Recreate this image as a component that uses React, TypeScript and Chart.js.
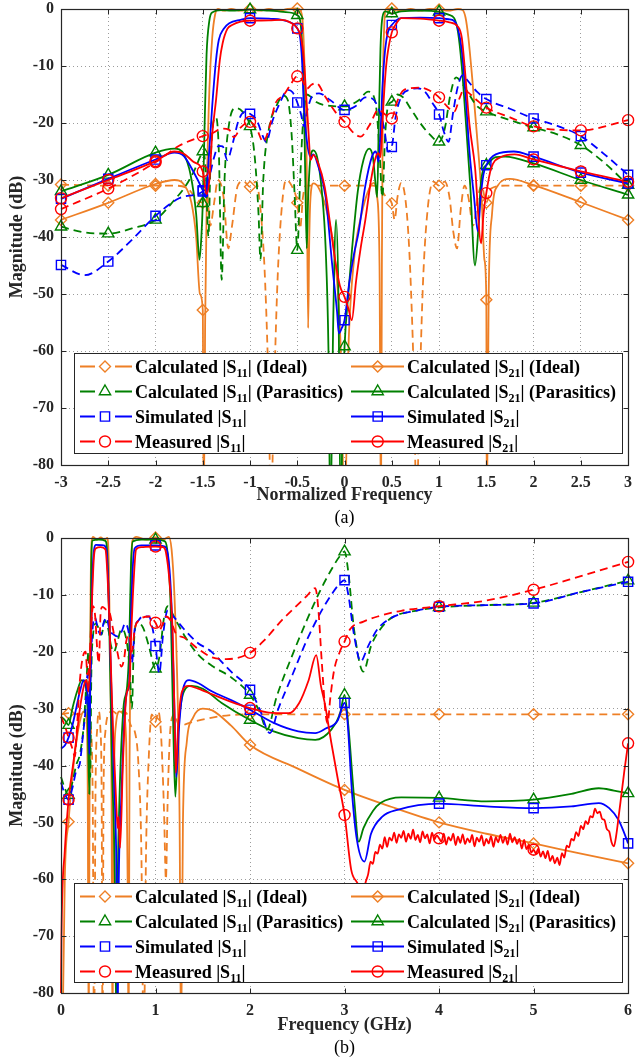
import React, { useEffect, useRef } from "react";
import { Chart, registerables } from "chart.js";

Chart.register(...registerables);

type Pt = [number, number];

const FONT = "'Liberation Serif', 'Times New Roman', Times, serif";
const ORANGE = "#EE7F25";
const GREEN = "#008000";
const BLUE = "#0000FF";
const RED = "#FF0000";
const INK = "#262626";

// ================= (a) Normalized frequency =================
const topMarkerX = [-3, -2.5, -2, -1.5, -1, -0.5, 0, 0.5, 1, 1.5, 2, 2.5, 3];

const topIdealS11: Pt[] = [
  [-3, -30.8], [-2.5, -31], [-2, -31], [-1.8, -31], [-1.66, -31.5], [-1.58, -33], [-1.5, -34], [-1.46, -31.5],
  [-1.42, -38], [-1.38, -34], [-1.34, -30], [-1.28, -33], [-1.23, -42], [-1.19, -38], [-1.13, -31], [-1.07, -30.2],
  [-1, -31.2], [-0.94, -30.3], [-0.89, -35], [-0.84, -48], [-0.8, -70], [-0.78, -90], [-0.75, -70], [-0.71, -48],
  [-0.67, -36], [-0.62, -30], [-0.56, -31], [-0.5, -34], [-0.47, -38.5], [-0.44, -33], [-0.41, -31], [-0.3, -31],
  [0, -31], [0.3, -31], [0.38, -31.5], [0.44, -33], [0.5, -34.1], [0.53, -37], [0.56, -33], [0.6, -30.5],
  [0.66, -36], [0.7, -48], [0.74, -70], [0.76, -90], [0.79, -70], [0.83, -48], [0.88, -35], [0.94, -30.3],
  [1, -31], [1.06, -30.3], [1.11, -33], [1.15, -39], [1.19, -42], [1.23, -35], [1.27, -31], [1.31, -33],
  [1.36, -38], [1.41, -33], [1.45, -31], [1.5, -34], [1.55, -31.5], [1.7, -31], [2, -31], [2.5, -31], [3, -31],
];

const topIdealS21: Pt[] = [
  [-3, -37], [-2.5, -34], [-2, -30.7], [-1.8, -30], [-1.7, -30.8], [-1.62, -34], [-1.57, -40], [-1.53, -50],
  [-1.5, -52.8], [-1.49, -90], [-1.475, -55], [-1.455, -30], [-1.43, -14], [-1.4, -5], [-1.37, -1], [-1.34, 0],
  [-1.28, -0.3], [-1.2, 0], [-1.1, -0.3], [-1, 0], [-0.9, -0.3], [-0.8, 0], [-0.7, -0.3], [-0.6, 0],
  [-0.5, 0.1], [-0.46, -0.5], [-0.44, -3], [-0.42, -12], [-0.4, -28], [-0.385, -56], [-0.375, -42], [-0.36, -33],
  [-0.33, -30.6], [-0.27, -31.5], [-0.18, -36], [-0.1, -44], [-0.04, -60], [0, -90], [0.04, -60], [0.1, -44],
  [0.18, -36], [0.26, -31.5], [0.31, -30.5], [0.345, -33], [0.37, -45], [0.385, -90], [0.395, -45], [0.405, -15],
  [0.42, -3], [0.44, 0], [0.5, 0.1], [0.6, -0.3], [0.7, 0], [0.8, -0.3], [0.9, 0], [1, -0.1],
  [1.1, -0.3], [1.2, 0], [1.25, -0.2], [1.28, -1.5], [1.31, -5], [1.35, -12], [1.4, -22], [1.45, -33],
  [1.48, -44], [1.5, -51], [1.505, -90], [1.525, -50], [1.56, -36], [1.62, -31], [1.75, -29.8], [2, -30.9],
  [2.5, -33.9], [3, -37],
];

const topParaS11: Pt[] = [
  [-3, -38.2], [-2.75, -39.2], [-2.5, -39.4], [-2.25, -38.5], [-2, -37], [-1.8, -33.5], [-1.68, -31], [-1.58, -28],
  [-1.53, -26], [-1.5, -25], [-1.47, -28], [-1.44, -40], [-1.42, -28], [-1.39, -20], [-1.36, -19], [-1.33, -25],
  [-1.3, -47.5], [-1.27, -30], [-1.22, -20], [-1.15, -17.4], [-1.08, -18], [-1, -20.6], [-0.95, -26], [-0.91, -36],
  [-0.89, -44], [-0.86, -30], [-0.8, -21], [-0.72, -17], [-0.65, -15.2], [-0.6, -16], [-0.56, -22], [-0.53, -32],
  [-0.5, -42.3], [-0.47, -30], [-0.44, -20], [-0.4, -15], [-0.35, -15.5], [-0.3, -16.3], [-0.15, -17], [0, -17.1],
  [0.15, -16], [0.25, -14.5], [0.3, -15], [0.34, -18], [0.37, -25], [0.4, -33], [0.43, -22], [0.46, -17],
  [0.5, -16.3], [0.56, -15], [0.62, -15.5], [0.7, -17.5], [0.8, -20], [0.9, -22], [1, -23.3], [1.06, -21],
  [1.12, -15], [1.18, -12], [1.22, -12.5], [1.3, -14.5], [1.4, -17], [1.5, -18], [1.75, -19.5], [2, -20.8],
  [2.25, -22], [2.5, -23.9], [2.75, -27], [3, -30.9],
];

const topParaS21: Pt[] = [
  [-3, -32], [-2.5, -29.1], [-2, -25.2], [-1.8, -24.5], [-1.7, -25.5], [-1.63, -29], [-1.57, -36], [-1.535, -44],
  [-1.515, -40], [-1.5, -34.1], [-1.48, -20], [-1.46, -8], [-1.43, -2], [-1.4, -0.6], [-1.3, -0.2], [-1.2, -0.3],
  [-1, -0.1], [-0.8, -0.3], [-0.65, -0.5], [-0.55, -0.7], [-0.5, -1.1], [-0.47, -2], [-0.45, -6], [-0.43, -16],
  [-0.415, -30], [-0.4, -42], [-0.385, -33], [-0.36, -26], [-0.33, -24.8], [-0.29, -26], [-0.24, -32], [-0.2, -42],
  [-0.17, -60], [-0.15, -90], [-0.12, -55], [-0.09, -37], [-0.065, -50], [-0.04, -90], [-0.02, -70], [0, -59.2],
  [0.04, -50], [0.08, -42], [0.14, -32], [0.2, -26.5], [0.26, -24.5], [0.3, -26], [0.33, -31], [0.345, -33],
  [0.36, -22], [0.38, -7], [0.4, -1.5], [0.43, -0.4], [0.5, -0.8], [0.6, -0.4], [0.8, -0.3], [1, -0.5],
  [1.1, -1], [1.16, -1.6], [1.2, -4], [1.24, -10], [1.28, -19], [1.33, -31], [1.38, -45], [1.41, -40],
  [1.44, -31], [1.47, -28], [1.5, -27.4], [1.6, -26], [1.7, -25.9], [2, -27.1], [2.5, -30], [3, -32.6],
];

const topSimS11: Pt[] = [
  [-3, -44.9], [-2.75, -46.7], [-2.5, -44.3], [-2.25, -40.5], [-2, -36.3], [-1.75, -33.2], [-1.5, -32], [-1.45, -31],
  [-1.42, -28.8], [-1.38, -26], [-1.33, -24], [-1.29, -24.1], [-1.24, -26.5], [-1.19, -24], [-1.12, -19.5], [-1.05, -18],
  [-1, -18.4], [-0.93, -19.5], [-0.86, -22.5], [-0.83, -23.3], [-0.76, -19.5], [-0.69, -16.7], [-0.6, -14.2], [-0.55, -14.6],
  [-0.5, -16.4], [-0.46, -18.5], [-0.43, -20.6], [-0.39, -17.5], [-0.33, -15], [-0.27, -14.8], [-0.15, -16], [0, -17.7],
  [0.12, -17], [0.22, -15.5], [0.3, -15.8], [0.36, -17.5], [0.42, -21], [0.46, -25], [0.5, -24.2], [0.54, -19],
  [0.6, -15.4], [0.7, -14.1], [0.77, -13.9], [0.85, -14.5], [0.93, -16.5], [1, -18.5], [1.05, -21.5], [1.1, -23.3],
  [1.15, -18], [1.2, -13.5], [1.25, -11.6], [1.3, -12.5], [1.4, -14.5], [1.5, -15.8], [1.75, -17.5], [2, -19.2],
  [2.25, -20.5], [2.5, -22.3], [2.75, -25.5], [3, -29.1],
];

const topSimS21: Pt[] = [
  [-3, -33.3], [-2.5, -29.8], [-2, -26.4], [-1.8, -25.2], [-1.7, -25.8], [-1.6, -28.5], [-1.5, -31.8], [-1.47, -33],
  [-1.44, -27], [-1.4, -17], [-1.36, -9], [-1.33, -5.4], [-1.28, -3.5], [-1.22, -2.5], [-1.1, -1.9], [-1, -1.6],
  [-0.8, -1.7], [-0.6, -2.2], [-0.5, -3.4], [-0.47, -5], [-0.45, -9], [-0.43, -17], [-0.4, -23], [-0.36, -25.9],
  [-0.33, -25.5], [-0.28, -27.5], [-0.2, -33], [-0.13, -45], [-0.08, -53], [-0.06, -56.9], [-0.03, -56], [0, -54.6],
  [0.05, -48], [0.1, -43], [0.15, -39], [0.22, -31], [0.29, -25.9], [0.33, -25], [0.36, -26.8], [0.38, -22],
  [0.4, -14], [0.43, -7], [0.46, -4], [0.5, -2.8], [0.6, -1.6], [0.8, -1.5], [1, -1.6], [1.1, -1.8],
  [1.16, -2.1], [1.2, -3.5], [1.24, -7.2], [1.28, -15], [1.32, -24.7], [1.37, -33], [1.41, -39], [1.44, -33],
  [1.47, -29], [1.5, -27.4], [1.6, -25.5], [1.79, -25], [2, -25.9], [2.5, -28.7], [3, -30.6],
];

const topMeasS11: Pt[] = [
  [-3, -35.1], [-2.5, -31.5], [-2, -26.9], [-1.75, -24], [-1.5, -22.3], [-1.4, -21.8], [-1.3, -21], [-1.22, -21.2],
  [-1.17, -22.5], [-1.1, -20.8], [-1, -19.8], [-0.93, -21], [-0.86, -23.3], [-0.8, -21], [-0.73, -16.5], [-0.65, -15.2],
  [-0.58, -13.5], [-0.5, -11.8], [-0.45, -12.4], [-0.4, -14], [-0.35, -13.3], [-0.3, -13], [-0.2, -15.5], [-0.1, -18],
  [0, -19.8], [0.1, -21.8], [0.17, -22.4], [0.26, -20.5], [0.36, -17.7], [0.43, -18.5], [0.5, -19.2], [0.55, -16.5],
  [0.63, -14.2], [0.8, -13.8], [0.9, -14.3], [1, -15.5], [1.08, -17], [1.16, -18], [1.22, -15.5], [1.26, -14.2],
  [1.32, -14.8], [1.4, -16], [1.5, -17.3], [1.75, -19], [2, -20.6], [2.5, -21.3], [3, -19.5],
];

const topMeasS21: Pt[] = [
  [-3, -33.2], [-2.5, -30], [-2, -26.7], [-1.8, -25], [-1.7, -25.4], [-1.6, -26.8], [-1.5, -28.5], [-1.46, -32.5],
  [-1.43, -30], [-1.4, -22], [-1.36, -16], [-1.32, -9], [-1.29, -6], [-1.24, -3.5], [-1.19, -2.8], [-1.1, -2.2],
  [-1, -2.05], [-0.8, -2], [-0.67, -1.9], [-0.58, -2.3], [-0.5, -3.4], [-0.46, -5], [-0.43, -9], [-0.41, -14],
  [-0.38, -22], [-0.36, -26.5], [-0.33, -25.6], [-0.28, -27], [-0.21, -31.2], [-0.15, -38], [-0.1, -44], [-0.05, -48.5],
  [0, -50.5], [0.04, -52.5], [0.077, -54.6], [0.12, -48], [0.17, -42], [0.22, -37], [0.28, -30], [0.33, -26],
  [0.36, -25.3], [0.38, -26], [0.4, -20], [0.43, -12], [0.45, -8.5], [0.5, -4.1], [0.55, -2.5], [0.6, -1.6],
  [0.8, -1.7], [1, -2.05], [1.1, -2.3], [1.2, -3.1], [1.24, -5], [1.27, -10], [1.32, -20], [1.38, -27.7],
  [1.445, -41.1], [1.47, -36], [1.5, -32.3], [1.55, -28], [1.65, -26], [1.8, -25.5], [2, -26.4], [2.5, -28.5], [3, -30.3],
];

// ================= (b) Frequency (GHz) =================
const botMarkerX = [0.08, 1, 2, 3, 4, 5, 6];

const botIdealS11: Pt[] = [
  [0, -31], [0.08, -30.8], [0.2, -31], [0.28, -31], [0.31, -33], [0.335, -45], [0.35, -90], [0.365, -45],
  [0.385, -33], [0.4, -30.5], [0.415, -33], [0.43, -45], [0.44, -90], [0.45, -45], [0.47, -34], [0.5, -31],
  [0.55, -30.5], [0.6, -31], [0.65, -30.5], [0.7, -31], [0.74, -33], [0.78, -34], [0.82, -40], [0.85, -55],
  [0.875, -90], [0.9, -55], [0.93, -38], [0.96, -31], [1, -32.3], [1.03, -30.5], [1.06, -35], [1.09, -48],
  [1.11, -60], [1.13, -45], [1.16, -33], [1.2, -31], [1.25, -33], [1.4, -32.3], [1.7, -31.3], [2, -31],
  [3, -31], [4, -31], [5, -31], [6, -31],
];

const botIdealS21: Pt[] = [
  [0.015, -90], [0.04, -60], [0.08, -49.9], [0.12, -42], [0.17, -35], [0.22, -31], [0.25, -30.5], [0.27, -32],
  [0.283, -45], [0.293, -90], [0.303, -40], [0.313, -10], [0.325, -0.5], [0.34, 0.2], [0.38, -0.3], [0.42, 0.1],
  [0.46, -0.3], [0.49, 0], [0.505, -4], [0.52, -20], [0.535, -45], [0.545, -90], [0.555, -50], [0.58, -33],
  [0.62, -30.5], [0.66, -31], [0.69, -36], [0.705, -60], [0.715, -90], [0.725, -40], [0.74, -8], [0.755, -0.5],
  [0.8, 0.2], [0.9, -0.3], [1, 0.1], [1.08, -0.3], [1.14, 0.2], [1.17, -2], [1.2, -10], [1.23, -25],
  [1.255, -50], [1.27, -90], [1.29, -50], [1.33, -36], [1.4, -31.5], [1.5, -30], [1.6, -30.3], [1.8, -33],
  [2, -36.4], [2.5, -40.5], [3, -44.3], [3.5, -47.3], [4, -50], [4.5, -52], [5, -53.7], [5.5, -55.5], [6, -57.2],
];

const botParaS11: Pt[] = [
  [0, -42], [0.04, -44], [0.08, -45.2], [0.12, -43], [0.16, -40], [0.2, -38], [0.24, -33], [0.27, -25],
  [0.29, -20], [0.3, -28], [0.31, -42], [0.32, -25], [0.34, -17], [0.37, -15], [0.4, -16], [0.43, -17],
  [0.46, -14.5], [0.5, -16], [0.53, -19], [0.56, -20], [0.6, -18], [0.64, -16], [0.68, -17], [0.71, -20],
  [0.73, -24], [0.75, -30], [0.77, -19], [0.8, -15], [0.86, -15.5], [0.93, -19], [1, -23], [1.04, -21],
  [1.09, -14], [1.13, -12], [1.2, -14], [1.3, -17], [1.45, -20.5], [1.6, -22.5], [1.8, -24.5], [2, -27.6],
  [2.1, -30.5], [2.18, -33.7], [2.28, -28], [2.45, -20.5], [2.6, -14.5], [2.75, -9], [2.88, -5], [2.95, -3.2],
  [3, -2.4], [3.04, -6], [3.1, -16], [3.2, -23.5], [3.28, -19], [3.38, -16], [3.5, -14], [3.75, -12.8],
  [4, -12.2], [4.5, -11.8], [5, -11.4], [5.5, -9.5], [6, -7.5],
];

const botParaS21: Pt[] = [
  [0, -31.4], [0.04, -32], [0.08, -32.9], [0.12, -30], [0.17, -27], [0.22, -25], [0.26, -26], [0.28, -30],
  [0.3, -45], [0.31, -25], [0.32, -5], [0.335, -0.4], [0.4, -0.3], [0.47, -0.5], [0.49, -3], [0.51, -15],
  [0.54, -40], [0.57, -60], [0.585, -85], [0.6, -60], [0.62, -45], [0.66, -30], [0.7, -26], [0.72, -20],
  [0.74, -5], [0.76, -0.6], [0.85, -0.3], [1, -0.3], [1.1, -0.6], [1.13, -3], [1.16, -12], [1.19, -35],
  [1.21, -45.5], [1.24, -34], [1.3, -27], [1.38, -26], [1.5, -26.5], [1.7, -29], [2, -32], [2.25, -34],
  [2.51, -35.2], [2.69, -35.5], [2.86, -33.7], [2.95, -31], [3, -27.6], [3.04, -33], [3.1, -45.5], [3.15, -53.4],
  [3.2, -51], [3.3, -48], [3.38, -46.6], [3.6, -45.6], [4, -45.7], [4.5, -46.3], [5, -46], [5.4, -45],
  [5.69, -44], [5.85, -44.4], [6, -44.9],
];

const botSimS11: Pt[] = [
  [0, -43], [0.04, -45], [0.08, -46], [0.12, -44], [0.16, -41], [0.2, -39.6], [0.23, -35], [0.26, -30],
  [0.28, -24], [0.3, -30], [0.32, -20], [0.34, -15], [0.36, -14], [0.39, -16], [0.42, -17], [0.45, -15],
  [0.48, -14], [0.515, -16.2], [0.56, -17], [0.6, -17.3], [0.64, -16.5], [0.68, -15], [0.72, -17], [0.75, -22],
  [0.78, -16], [0.82, -14.5], [0.865, -13.8], [0.93, -13.8], [0.97, -16], [1, -19], [1.04, -23.8], [1.08, -17],
  [1.13, -12.7], [1.2, -14], [1.3, -16], [1.45, -18.5], [1.57, -19.7], [1.8, -23.5], [2, -26.7], [2.1, -30],
  [2.21, -34.3], [2.3, -30], [2.45, -24], [2.6, -18], [2.75, -13], [2.88, -9.5], [2.95, -8], [3, -7.4],
  [3.04, -10], [3.1, -17], [3.17, -21.7], [3.25, -19], [3.35, -16], [3.5, -14], [3.75, -12.8], [4, -12.1],
  [4.5, -11.8], [5, -11.5], [5.5, -9.5], [6, -7.7],
];

const botSimS21: Pt[] = [
  [0, -37], [0.04, -36.5], [0.08, -35.1], [0.12, -33], [0.16, -30], [0.2, -27], [0.24, -25], [0.27, -26],
  [0.29, -30], [0.3, -38], [0.31, -25], [0.33, -8], [0.35, -2], [0.37, -1.2], [0.45, -1.3], [0.48, -2],
  [0.5, -8], [0.53, -25], [0.56, -42], [0.59, -62], [0.6, -85], [0.61, -62], [0.64, -45], [0.67, -32],
  [0.7, -27], [0.72, -26], [0.74, -14], [0.76, -5], [0.78, -1.8], [0.85, -1.3], [1, -1.3], [1.1, -1.5],
  [1.14, -4], [1.17, -12], [1.2, -30], [1.22, -42], [1.25, -33], [1.3, -26], [1.355, -25], [1.45, -25.5],
  [1.6, -27], [1.8, -28.5], [2, -30.2], [2.25, -32.5], [2.51, -34], [2.69, -34.3], [2.8, -33.5], [2.93, -32],
  [2.97, -30], [3, -29], [3.03, -32], [3.08, -45], [3.13, -53], [3.21, -56.9], [3.28, -52], [3.4, -49],
  [3.56, -47.8], [4, -46.7], [4.5, -47.2], [5, -47.5], [5.4, -47.2], [5.69, -46.6], [5.8, -47.5], [5.9, -49.6],
  [5.95, -51.5], [6, -53.7],
];

const botMeasS11: Pt[] = [
  [0, -31.4], [0.04, -33], [0.08, -35.1], [0.12, -37], [0.147, -38.4], [0.17, -33], [0.2, -25], [0.23, -21],
  [0.26, -20], [0.28, -24], [0.3, -22], [0.32, -15], [0.34, -12], [0.36, -13.5], [0.385, -20], [0.4, -22],
  [0.42, -13], [0.44, -12.1], [0.47, -12.5], [0.515, -13.2], [0.55, -16], [0.585, -19.1], [0.64, -22.6], [0.67, -21],
  [0.69, -18.2], [0.72, -17], [0.75, -20], [0.78, -16], [0.83, -14.4], [0.935, -13.8], [1, -14.9], [1.04, -16.2],
  [1.08, -15], [1.11, -13.8], [1.16, -14.5], [1.215, -16.8], [1.3, -17.5], [1.45, -19.5], [1.6, -21], [1.75, -21.3],
  [2, -20.2], [2.15, -18], [2.34, -14.4], [2.5, -11.8], [2.6, -10.2], [2.69, -8.8], [2.72, -12], [2.76, -22],
  [2.8, -31], [2.82, -32.6], [2.85, -28], [2.89, -23.2], [2.95, -20], [3, -18.2], [3.06, -16], [3.2, -14.7],
  [3.35, -13.8], [3.6, -12.8], [4, -12], [4.5, -11], [5, -9.1], [5.5, -6.7], [6, -4.2],
];

const botMeasS21Head: Pt[] = [
  [0, -80], [0.005, -70], [0.04, -55], [0.08, -46], [0.13, -39.6], [0.165, -35], [0.2, -30], [0.25, -25.5],
  [0.27, -25], [0.29, -27], [0.31, -21], [0.33, -10], [0.35, -3], [0.37, -1.8], [0.42, -1.6], [0.47, -2],
  [0.49, -6], [0.515, -16], [0.55, -33.7], [0.58, -45], [0.6, -51], [0.61, -49], [0.625, -54.5], [0.655, -39.6],
  [0.69, -27.9], [0.725, -25], [0.74, -18], [0.76, -10.3], [0.795, -2], [0.85, -1.6], [1, -1.5], [1.08, -1.6],
  [1.11, -2.5], [1.15, -8], [1.18, -16.2], [1.2, -30], [1.215, -41.3], [1.24, -33], [1.28, -27], [1.35, -26],
  [1.45, -26.5], [1.6, -27.5], [1.8, -28.8], [2, -29.9], [2.2, -30.7], [2.41, -30.8], [2.52, -29], [2.62, -25],
  [2.7, -20.6], [2.75, -26], [2.79, -29], [2.86, -36], [2.93, -42.5], [3, -48.7], [3.07, -58.3], [3.13, -60.5],
  [3.17, -61.5],
];
// measured noisy stretch, sampled every 0.025 GHz from 3.2 GHz
const botMeasS21NoiseStart = 3.2;
const botMeasS21NoiseStep = 0.025;
const botMeasS21Noise = [
  -62.0, -60.4, -59.1, -56.9, -57.3, -55.2, -55.5, -53.9, -54.6, -52.6, -54.3, -52.7, -53.2, -51.8, -53.6, -52.1,
  -52.7, -51.5, -53.4, -52.0, -52.9, -51.3, -53.1, -52.2, -53.5, -51.6, -52.8, -52.1, -53.7, -51.8, -53.0, -52.3,
  -52.8, -53.4, -52.0, -53.9, -52.6, -53.2, -52.0, -54.0, -52.5, -53.6, -52.1, -53.8, -52.8, -53.5, -52.2, -54.2,
  -52.7, -53.4, -52.3, -54.1, -52.9, -53.7, -52.4, -54.3, -52.6, -53.5, -52.2, -53.6, -52.5, -53.9, -52.0, -53.5,
  -52.6, -53.8, -52.9, -54.6, -53.1, -54.7, -53.9, -55.3, -54.8, -55.5, -54.6, -56.0, -55.1, -56.3, -55.0, -56.8,
  -55.9, -57.2, -56.2, -57.5, -55.4, -56.2, -54.1, -54.4, -52.9, -53.2, -51.7, -52.4, -50.6, -51.2, -49.8, -50.3,
  -48.9, -49.1, -47.6, -48.4, -48.1, -49.4, -49.6, -51.2, -51.6, -53.5, -54.2, -52.2, -49.0,
];
const botMeasS21Tail: Pt[] = [[5.93, -45], [5.96, -41], [6, -36.1]];

// ================= rendering =================
const MR: Record<string, number> = { circle: 5.5, rectRot: 5.5, triangle: 6.5, rect: 6.5 };

type Series = { pts: Pt[]; color: string; dashed: boolean; marker: string };

function buildDatasets(series: Series[], markerX: number[]) {
  return series.map((s) => ({
    data: s.pts.map(([x, y]) => ({ x, y })),
    borderColor: s.color,
    backgroundColor: s.color,
    borderWidth: 1.8,
    borderDash: s.dashed ? [8, 5] : [],
    fill: false,
    cubicInterpolationMode: "monotone",
    pointStyle: s.marker,
    pointRadius: (c: any) =>
      c.raw && markerX.some((m) => Math.abs(m - c.raw.x) < 1e-6) ? MR[s.marker] : 0,
    pointHoverRadius: 0,
    pointBorderColor: s.color,
    pointBackgroundColor: "rgba(0,0,0,0)",
    pointBorderWidth: 1.4,
    clip: { left: 10, right: 10, top: 8, bottom: 0 },
  }));
}

type LegItem = { color: string; dashed: boolean; marker: string; pre: string; sub: string; post: string };
const legendCol1: LegItem[] = [
  { color: ORANGE, dashed: true, marker: "rectRot", pre: "Calculated |S", sub: "11", post: "| (Ideal)" },
  { color: GREEN, dashed: true, marker: "triangle", pre: "Calculated |S", sub: "11", post: "| (Parasitics)" },
  { color: BLUE, dashed: true, marker: "rect", pre: "Simulated |S", sub: "11", post: "|" },
  { color: RED, dashed: true, marker: "circle", pre: "Measured |S", sub: "11", post: "|" },
];
const legendCol2: LegItem[] = [
  { color: ORANGE, dashed: false, marker: "rectRot", pre: "Calculated |S", sub: "21", post: "| (Ideal)" },
  { color: GREEN, dashed: false, marker: "triangle", pre: "Calculated |S", sub: "21", post: "| (Parasitics)" },
  { color: BLUE, dashed: false, marker: "rect", pre: "Simulated |S", sub: "21", post: "|" },
  { color: RED, dashed: false, marker: "circle", pre: "Measured |S", sub: "21", post: "|" },
];

function drawMarker(ctx: CanvasRenderingContext2D, style: string, x: number, y: number, color: string) {
  const r = MR[style];
  ctx.save();
  ctx.setLineDash([]);
  ctx.strokeStyle = color;
  ctx.lineWidth = 1.4;
  ctx.beginPath();
  if (style === "circle") ctx.arc(x, y, r, 0, Math.PI * 2);
  else if (style === "rectRot") {
    ctx.moveTo(x, y - r); ctx.lineTo(x + r, y); ctx.lineTo(x, y + r); ctx.lineTo(x - r, y); ctx.closePath();
  } else if (style === "triangle") {
    let a = 0;
    ctx.moveTo(x + Math.sin(a) * r, y - Math.cos(a) * r);
    a += (2 * Math.PI) / 3; ctx.lineTo(x + Math.sin(a) * r, y - Math.cos(a) * r);
    a += (2 * Math.PI) / 3; ctx.lineTo(x + Math.sin(a) * r, y - Math.cos(a) * r);
    ctx.closePath();
  } else {
    const s = r / Math.SQRT2;
    ctx.rect(x - s, y - s, 2 * s, 2 * s);
  }
  ctx.stroke();
  ctx.restore();
}

type Deco = { xTitle: string; caption: string; xTitleY: number; captionY: number; legTop: number; legBottom: number };

function decoPlugin(d: Deco) {
  return {
    id: "deco",
    afterDatasetsDraw(chart: any) {
      const { ctx, chartArea: ca } = chart;
      const xs = chart.scales.x;
      const ys = chart.scales.y;
      ctx.save();
      ctx.setLineDash([]);
      // axes box
      const L = Math.round(ca.left) + 0.5, R = Math.round(ca.right) + 0.5;
      const T = Math.round(ca.top) + 0.5, B = Math.round(ca.bottom) + 0.5;
      ctx.strokeStyle = INK;
      ctx.lineWidth = 1.2;
      ctx.strokeRect(L, T, R - L, B - T);
      // inner tick marks
      ctx.lineWidth = 1;
      ctx.beginPath();
      xs.ticks.forEach((t: any) => {
        const p = Math.round(xs.getPixelForValue(t.value)) + 0.5;
        ctx.moveTo(p, B); ctx.lineTo(p, B - 5);
        ctx.moveTo(p, T); ctx.lineTo(p, T + 5);
      });
      ys.ticks.forEach((t: any) => {
        const p = Math.round(ys.getPixelForValue(t.value)) + 0.5;
        ctx.moveTo(L, p); ctx.lineTo(L + 5, p);
        ctx.moveTo(R, p); ctx.lineTo(R - 5, p);
      });
      ctx.stroke();

      // legend
      const lx = 74, rx = 622;
      ctx.fillStyle = "#fff";
      ctx.fillRect(lx, d.legTop, rx - lx, d.legBottom - d.legTop);
      ctx.strokeStyle = INK;
      ctx.lineWidth = 1;
      ctx.strokeRect(lx + 0.5, d.legTop + 0.5, rx - lx, d.legBottom - d.legTop);
      const cols = [
        { items: legendCol1, l0: 80, l1: 132, mx: 105, tx: 135 },
        { items: legendCol2, l0: 351, l1: 404, mx: 377.7, tx: 407 },
      ];
      cols.forEach((col) => {
        col.items.forEach((it, i) => {
          const cy = d.legTop + 13.5 + i * 25;
          ctx.save();
          ctx.strokeStyle = it.color;
          ctx.lineWidth = 1.8;
          ctx.beginPath();
          if (it.dashed) {
            ctx.moveTo(col.l0, cy); ctx.lineTo(col.mx - 10, cy);
            ctx.moveTo(col.mx + 10, cy); ctx.lineTo(col.l1, cy);
          } else {
            ctx.moveTo(col.l0, cy); ctx.lineTo(col.l1, cy);
          }
          ctx.stroke();
          ctx.restore();
          drawMarker(ctx, it.marker, col.mx, cy, it.color);
          ctx.fillStyle = "#000";
          ctx.textAlign = "left";
          ctx.textBaseline = "alphabetic";
          let x = col.tx;
          const by = cy + 6;
          ctx.font = `bold 18px ${FONT}`;
          ctx.fillText(it.pre, x, by);
          x += ctx.measureText(it.pre).width;
          ctx.font = `bold 12px ${FONT}`;
          ctx.fillText(it.sub, x, by + 4);
          x += ctx.measureText(it.sub).width;
          ctx.font = `bold 18px ${FONT}`;
          ctx.fillText(it.post, x, by);
        });
      });

      // titles
      ctx.fillStyle = INK;
      ctx.font = `bold 18px ${FONT}`;
      ctx.textAlign = "center";
      ctx.textBaseline = "alphabetic";
      const cx = (ca.left + ca.right) / 2;
      ctx.fillText(d.xTitle, cx, d.xTitleY);
      ctx.font = `18px ${FONT}`;
      ctx.fillStyle = "#000";
      ctx.fillText(d.caption, cx, d.captionY);
      ctx.save();
      ctx.translate(17, (ca.top + ca.bottom) / 2);
      ctx.rotate(-Math.PI / 2);
      ctx.font = `bold 18px ${FONT}`;
      ctx.fillStyle = INK;
      ctx.textBaseline = "middle";
      ctx.fillText("Magnitude (dB)", 0, 0);
      ctx.restore();
      ctx.restore();
    },
  };
}

function makeConfig(
  series: Series[], markerX: number[], xmin: number, xmax: number, step: number,
  axisH: number, padTop: number, xTickPad: number, deco: Deco
): any {
  const tickFont = { family: FONT, size: 16, weight: "bold", lineHeight: 1 };
  const gridCommon = { color: "#9c9c9c", lineWidth: 1, drawTicks: false };
  return {
    type: "line",
    data: { datasets: buildDatasets(series, markerX) },
    options: {
      responsive: false,
      animation: false,
      devicePixelRatio: 1,
      events: [],
      layout: { padding: { top: padTop, right: 4, left: 0, bottom: 0 } },
      plugins: { legend: { display: false }, tooltip: { enabled: false }, title: { display: false } },
      scales: {
        x: {
          type: "linear", min: xmin, max: xmax,
          ticks: {
            stepSize: step, autoSkip: false, maxRotation: 0, font: tickFont, color: INK, padding: xTickPad,
            callback: (v: any) => `${Number(Number(v).toFixed(2))}`,
          },
          grid: gridCommon,
          border: { display: false, dash: [1, 3] },
          afterFit: (s: any) => { s.height = axisH; s.paddingLeft = 0; s.paddingRight = 0; },
        },
        y: {
          type: "linear", min: -80, max: 0,
          ticks: { stepSize: 10, font: tickFont, color: INK, padding: 7 },
          grid: gridCommon,
          border: { display: false, dash: [1, 3] },
          afterFit: (s: any) => { s.width = 61; s.paddingTop = 0; s.paddingBottom = 0; },
        },
      },
    },
    plugins: [decoPlugin(deco)],
  };
}

export default function App() {
  const refA = useRef<HTMLCanvasElement>(null);
  const refB = useRef<HTMLCanvasElement>(null);

  useEffect(() => {
    const topSeries: Series[] = [
      { pts: topMeasS21, color: RED, dashed: false, marker: "circle" },
      { pts: topMeasS11, color: RED, dashed: true, marker: "circle" },
      { pts: topSimS21, color: BLUE, dashed: false, marker: "rect" },
      { pts: topSimS11, color: BLUE, dashed: true, marker: "rect" },
      { pts: topParaS21, color: GREEN, dashed: false, marker: "triangle" },
      { pts: topParaS11, color: GREEN, dashed: true, marker: "triangle" },
      { pts: topIdealS21, color: ORANGE, dashed: false, marker: "rectRot" },
      { pts: topIdealS11, color: ORANGE, dashed: true, marker: "rectRot" },
    ];
    const noisePts: Pt[] = botMeasS21Noise.map((v, i) => [
      Math.round((botMeasS21NoiseStart + i * botMeasS21NoiseStep) * 1000) / 1000, v,
    ]);
    const botMeasS21: Pt[] = [...botMeasS21Head, ...noisePts, ...botMeasS21Tail];
    const botSeries: Series[] = [
      { pts: botMeasS21, color: RED, dashed: false, marker: "circle" },
      { pts: botMeasS11, color: RED, dashed: true, marker: "circle" },
      { pts: botSimS21, color: BLUE, dashed: false, marker: "rect" },
      { pts: botSimS11, color: BLUE, dashed: true, marker: "rect" },
      { pts: botParaS21, color: GREEN, dashed: false, marker: "triangle" },
      { pts: botParaS11, color: GREEN, dashed: true, marker: "triangle" },
      { pts: botIdealS21, color: ORANGE, dashed: false, marker: "rectRot" },
      { pts: botIdealS11, color: ORANGE, dashed: true, marker: "rectRot" },
    ];
    const a = new Chart(
      refA.current as HTMLCanvasElement,
      makeConfig(topSeries, topMarkerX, -3, 3, 0.5, 530 - 465, 9, 10, {
        xTitle: "Normalized Frequency", caption: "(a)", xTitleY: 500, captionY: 523, legTop: 353, legBottom: 453,
      })
    );
    const b = new Chart(
      refB.current as HTMLCanvasElement,
      makeConfig(botSeries, botMarkerX, 0, 6, 1, 532 - 463, 8, 10, {
        xTitle: "Frequency (GHz)", caption: "(b)", xTitleY: 500, captionY: 523, legTop: 353, legBottom: 452,
      })
    );
    return () => {
      a.destroy();
      b.destroy();
    };
  }, []);

  return (
    <div style={{ position: "absolute", left: 0, top: 0, width: 636, height: 1062, background: "#fff" }}>
      <canvas ref={refA} width={636} height={530} style={{ position: "absolute", left: 0, top: 0, width: 636, height: 530 }} />
      <canvas ref={refB} width={636} height={532} style={{ position: "absolute", left: 0, top: 530, width: 636, height: 532 }} />
    </div>
  );
}
